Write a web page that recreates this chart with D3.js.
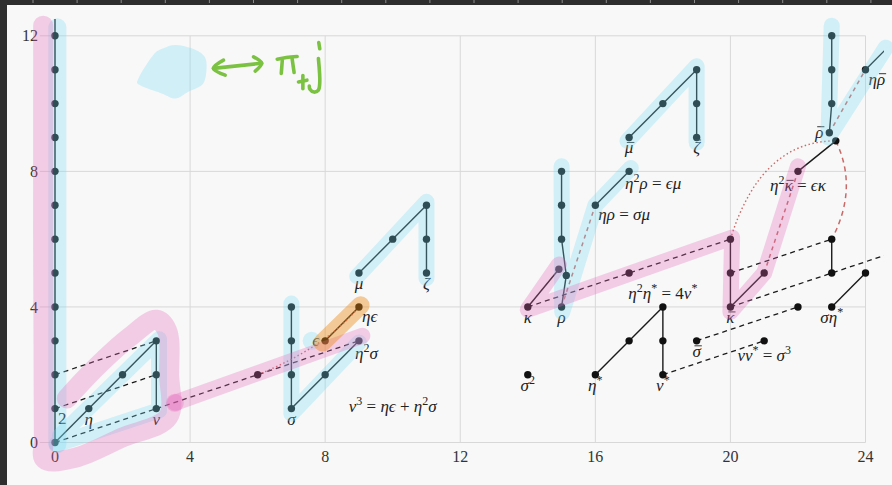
<!DOCTYPE html>
<html><head><meta charset="utf-8">
<script src="https://cdn.jsdelivr.net/npm/d3@7"></script>
<style>
html,body{margin:0;padding:0;background:#2e2e2e;}
svg{display:block;}
text{white-space:pre;}
</style></head><body>
<svg id="chart" width="892" height="485"></svg>
<script>
// ================= DATA =================
const xTicks = [0, 4, 8, 12, 16, 20, 24];
const yTicks = [0, 4, 8, 12];

// classes (dots) [x, y]
const dotsCol0 = [[0,0],[0,1],[0,2],[0,3],[0,4],[0,5],[0,6],[0,7],[0,8],[0,9],[0,10],[0,11],[0,12]];
const dotsLeft = [[1,1],[2,2],[3,3],[3,2],[3,1],[6,2],
  [7,1],[7,2],[7,3],[7,4],[8,2],[9,3],[8,3],[9,4],
  [9,5],[10,6],[11,7],[11,6],[11,5]];
const dotsRight = [[14,4],[14.92,5.11],[15,4],[15.14,4.93],[15,6],[15,7],[15,8],
  [16,7],[17,8],[17,5],[17,9],[18,10],[19,11],[19,10],[19,9],
  [14,2],[16,2],[17,3],[18,4],[18,3],[18,2],[19,3],[21,3],[22,4],
  [20,4],[20,5],[20,6],[21,5],[22,8],[23.12,8.9],
  [22.93,9.14],[23,10],[23,11],[23,12],[24,11],
  [23,5],[23,6],[23,4],[24,5]];

// solid products
const solidLines = [
  [[0,0],[0,13]], [[0,0],[3,3]], [[3,1],[3,3]],
  [[7,1],[7,4]], [[7,1],[9,3]], [[8,3],[9,4]],
  [[9,5],[11,7]], [[11,5],[11,7]],
  [[14,4],[14.92,5.11]], [[15,4],[15.14,4.93],[15,6],[15,8]],
  [[16,7],[17,8]], [[17,9],[19,11]], [[19,9],[19,11]],
  [[16,2],[18,4]], [[18,2],[18,4]],
  [[20,4],[20,6]], [[20,4],[21,5]], [[22,8],[23.12,8.9]],
  [[22.93,9.14],[23,10],[23,12]], [[24,11],[25,12]],
  [[23,5],[23,6]], [[23,4],[24,5]]
];
// dashed (nu multiplication)
const dashedLines = [
  [[0,0],[3,1]], [[0,1],[3,2]], [[0,2],[3,3]], [[3,1],[9,3]],
  [[14,4],[20,6]], [[20,5],[23,6]], [[20,4],[26,6]],
  [[18,2],[21,3]], [[19,3],[22,4]]
];
// red hidden extensions
const redDashed = [ [[15,4],[16,7]], [[21,5],[22,8]], [[22.93,9.14],[24,11]] ];
const redCurves = [
  {pts:[[6,2],[8,2.8],[9,4]], kind:"dot"},
  {pts:[[20,6],[20.9,8.9],[23.12,8.9]], kind:"dot"},
  {pts:[[23.12,8.9],[23.8,7.5],[23,6]], kind:"dash"}
];

// labels: text ("^" = superscript next char, "~" = bar over next char), anchor point, placement
const labels = [
  {t:"2", x:0, y:1, p:"rb"},
  {t:"η", x:1, y:1, p:"b"},
  {t:"ν", x:3, y:1, p:"b"},
  {t:"σ", x:7, y:1, p:"b"},
  {t:"ϵ", x:8, y:3, p:"l"},
  {t:"ηϵ", x:9, y:4, p:"rb"},
  {t:"η^2σ", x:9, y:3, p:"rb2"},
  {t:"μ", x:9, y:5, p:"b"},
  {t:"ζ", x:11, y:5, p:"b"},
  {t:"κ", x:14, y:4, p:"b"},
  {t:"ρ", x:15, y:4, p:"b"},
  {t:"ηρ = σμ", x:16, y:7, p:"rb"},
  {t:"η^2ρ = ϵμ", x:17, y:8, p:"rb2"},
  {t:"~μ", x:17, y:9, p:"b"},
  {t:"~ζ", x:19, y:9, p:"b"},
  {t:"σ^2", x:14, y:2, p:"b"},
  {t:"η^*", x:16, y:2, p:"b"},
  {t:"ν^*", x:18, y:2, p:"b"},
  {t:"η^2η^* = 4ν^*", x:18, y:4, p:"a"},
  {t:"~σ", x:19, y:3, p:"b"},
  {t:"~κ", x:20, y:4, p:"b"},
  {t:"νν^* = σ^3", x:21, y:3, p:"b2"},
  {t:"ση^*", x:23, y:4, p:"b"},
  {t:"η^2~κ = ϵκ", x:22, y:8, p:"b2"},
  {t:"~ρ", x:22.93, y:9.14, p:"l"},
  {t:"η~ρ", x:24, y:11, p:"rb"},
  {t:"ν^3 = ηϵ + η^2σ", x:10, y:0.9, p:"c"}
];

// marker highlights (data coordinates)
const hlBlue = [
  [[0.07,12.25],[0.07,-0.05]],
  [[0.05,-0.05],[3.08,0.95],[3.08,3.05],[0.15,0.2]],
  [[7,4.1],[7,0.85],[9.0,2.95]],
  [[8.95,4.9],[11,7.1],[11,4.85]],
  [[15,8.15],[15.02,3.85],[16,7],[17.05,8.1]],
  [[16.95,8.9],[19,11.1],[19,8.85]],
  [[23,12.3],[22.9,9.0],[24.6,11.65]]
];
const hlBlueDots = [[7.6,3.0]];
const hlPink = [
  [[-0.35,12.3],[-0.33,0.2],[-0.3,-0.5],[0.6,-0.45],[2.0,0.15],[3.35,0.75],[3.38,2.0],[3.32,3.3],[3.0,3.62],[2.2,3.1],[1.2,2.2],[0.35,1.3]],
  [[3.55,1.17],[9.1,3.15]],
  [[14.92,5.25],[14.0,3.92],[20.05,6.05],[20.0,3.85],[21.0,5.0],[22.0,8.15]]
];
const hlPinkDots = [[3.55,1.17]];
const hlOrange = [ [[7.92,2.95],[9.05,4.05]] ];

// green doodle (cloud + arrow + symbol)
const cloud = [[3.21,11.63],[3.56,11.73],[4.05,11.63],[4.39,11.43],[4.49,11.13],[4.39,10.59],[3.95,10.35],[3.56,10.15],[3.16,10.30],[2.52,10.54],[2.47,10.74],[2.91,11.43]];
const greenStrokes = [
  [[4.69,11.04],[6.12,11.19]],
  [[4.99,11.28],[4.69,11.04],[5.04,10.84]],
  [[5.88,11.38],[6.12,11.19],[5.93,10.96]],
  [[6.58,11.31],[6.85,11.36],[7.17,11.39]],
  [[6.73,11.27],[6.70,10.89]],
  [[7.02,11.33],[7.08,10.92]],
  [[7.34,10.83],[7.34,10.44]],
  [[7.21,10.64],[7.46,10.69]],
  [[7.80,11.33],[7.84,10.62],[7.80,10.40],[7.67,10.34],[7.55,10.42],[7.53,10.52]],
  [[7.81,11.80],[7.84,11.62]]
];

// ================= DRAW =================
const W = 892, H = 485;
const FONT = "'Liberation Serif','DejaVu Serif',serif";
const svg = d3.select('#chart');
const x = d3.scaleLinear().domain([0,24]).range([55, 865.5]);
const y = d3.scaleLinear().domain([0,12]).range([442.5, 35.8]);

svg.append('rect').attr('x',7).attr('y',5).attr('width',W-7).attr('height',H-5).attr('fill','#f8f8f8');
svg.append('g').selectAll('line').data(d3.range(33, W, 44.1)).join('line')
  .attr('x1',d=>d).attr('x2',d=>d).attr('y1',0).attr('y2',3)
  .attr('stroke','#8a8a8a').attr('stroke-width',1);

// grid
const grid = svg.append('g').attr('stroke','#d8d8d8').attr('stroke-width',1);
grid.selectAll('.h').data(yTicks).join('line')
  .attr('x1', x(-0.45)).attr('x2', x(24)).attr('y1', d=>y(d)).attr('y2', d=>y(d));
grid.selectAll('.v').data(xTicks).join('line')
  .attr('x1', d=>x(d)).attr('x2', d=>x(d)).attr('y1', y(0)).attr('y2', y(12));

// tick labels
svg.append('g').selectAll('text').data(yTicks).join('text')
  .attr('x', 38).attr('y', d=>y(d)).attr('dy','0.35em').attr('text-anchor','end')
  .attr('font-family',FONT).attr('font-size',16).attr('fill','#333').text(d=>d);
svg.append('g').selectAll('text').data(xTicks).join('text')
  .attr('x', d=>x(d)).attr('y', 462).attr('text-anchor','middle')
  .attr('font-family',FONT).attr('font-size',16).attr('fill','#333').text(d=>d);

// clip
svg.append('clipPath').attr('id','plotclip').append('rect')
  .attr('x', 20).attr('y', 19).attr('width', 864).attr('height', 455);
const plot = svg.append('g').attr('clip-path','url(#plotclip)');

const line = d3.line().x(d=>x(d[0])).y(d=>y(d[1]));

plot.append('g').selectAll('path').data(solidLines).join('path')
  .attr('d', line).attr('fill','none').attr('stroke','#1a1a1a').attr('stroke-width',1.4);
plot.append('g').selectAll('path').data(dashedLines).join('path')
  .attr('d', line).attr('fill','none').attr('stroke','#1a1a1a').attr('stroke-width',1.3)
  .attr('stroke-dasharray','5,4');
plot.append('g').selectAll('path').data(redDashed).join('path')
  .attr('d', line).attr('fill','none').attr('stroke','#c0504d').attr('stroke-opacity',0.85)
  .attr('stroke-width',1.5).attr('stroke-dasharray','4,4');
plot.append('g').selectAll('path').data(redCurves).join('path')
  .attr('d', d => {
    const [p0,c,p1] = d.pts;
    return `M${x(p0[0])},${y(p0[1])}Q${x(c[0])},${y(c[1])} ${x(p1[0])},${y(p1[1])}`;
  })
  .attr('fill','none').attr('stroke','#c0504d').attr('stroke-opacity',0.85)
  .attr('stroke-width', d => d.kind==='dot' ? 1.4 : 1.5)
  .attr('stroke-dasharray', d => d.kind==='dot' ? '1.5,2.5' : '5,4');

plot.append('g').selectAll('circle').data(dotsCol0.concat(dotsLeft, dotsRight)).join('circle')
  .attr('cx', d=>x(d[0])).attr('cy', d=>y(d[1])).attr('r',3.7).attr('fill','#111');

// labels
const placement = {
  b:  ['middle', 0, 16],
  b2: ['middle', 0, 20],
  rb: ['start', 3, 15],
  rb2:['start', -4, 18],
  l:  ['end', -6, 5],
  a:  ['middle', 0, -8],
  c:  ['middle', 0, 0]
};
const labG = svg.append('g');
function rich(str, px, py, anchor){
  const t = labG.append('text').attr('x',px).attr('y',py).attr('text-anchor',anchor)
    .attr('font-family',FONT).attr('font-size',17).attr('fill','#222');
  let i = 0, idx = 0, raised = false; const bars = [];
  while (i < str.length){
    let c = str[i], sup = false, bar = false;
    if (c === '^'){ sup = true; c = str[++i]; }
    if (c === '~'){ bar = true; c = str[++i]; }
    i++;
    const ts = t.append('tspan').text(c);
    if (/[A-Za-z\u03b1-\u03c9\u03f5]/.test(c)) ts.attr('font-style','italic');
    if (sup){ ts.attr('font-size',12); if(!raised){ ts.attr('dy',-7); raised = true; } }
    else if (raised){ ts.attr('dy',7); raised = false; }
    if (bar) bars.push({idx, c});
    idx++;
  }
  bars.forEach(b => {
    const n = t.node();
    const s = n.getStartPositionOfChar(b.idx), e = n.getEndPositionOfChar(b.idx);
    const off = b.c === 'ζ' ? 13.5 : 11;
    labG.append('line').attr('x1', s.x + 2).attr('x2', e.x + 1)
      .attr('y1', s.y - off).attr('y2', s.y - off).attr('stroke','#222').attr('stroke-width',0.9);
  });
}
labels.forEach(l => {
  const [anc, dx, dy] = placement[l.p];
  rich(l.t, x(l.x) + dx, y(l.y) + dy, anc);
});

// highlights
const hl = svg.append('g');
function strokes(data, col, op, w, curve){
  const ln = d3.line().x(d=>x(d[0])).y(d=>y(d[1])).curve(curve || d3.curveLinear);
  hl.append('g').selectAll('path').data(data).join('path')
    .attr('d', ln).attr('fill','none').attr('stroke',col).attr('stroke-opacity',op)
    .attr('stroke-width', w).attr('stroke-linecap','round').attr('stroke-linejoin','round');
}
const BLUE = 'rgb(120,220,245)', PINK = 'rgb(228,102,185)', ORANGE = 'rgb(237,135,20)';
strokes(hlBlue.slice(0,1), BLUE, 0.3, 18);
strokes(hlBlue.slice(1), BLUE, 0.3, 16);
hl.append('g').selectAll('circle').data(hlBlueDots).join('circle')
  .attr('cx', d=>x(d[0])).attr('cy', d=>y(d[1])).attr('r', 9).attr('fill',BLUE).attr('fill-opacity',0.3);
strokes([hlPink[0]], PINK, 0.3, 20, d3.curveCatmullRom.alpha(0.5));
strokes(hlPink.slice(1), PINK, 0.3, 16);
hl.append('g').selectAll('circle').data(hlPinkDots).join('circle')
  .attr('cx', d=>x(d[0])).attr('cy', d=>y(d[1])).attr('r', 9).attr('fill',PINK).attr('fill-opacity',0.3);
strokes(hlOrange, ORANGE, 0.42, 18);

// doodle
hl.append('path').datum(cloud)
  .attr('d', d3.line().x(d=>x(d[0])).y(d=>y(d[1])).curve(d3.curveCardinalClosed))
  .attr('fill', BLUE).attr('fill-opacity',0.3).attr('stroke','none');
hl.append('g').selectAll('path').data(greenStrokes).join('path')
  .attr('d', d3.line().x(d=>x(d[0])).y(d=>y(d[1])).curve(d3.curveCatmullRom))
  .attr('fill','none').attr('stroke','#7cc242').attr('stroke-width',3.6)
  .attr('stroke-linecap','round').attr('stroke-linejoin','round');
</script>
</body></html>
